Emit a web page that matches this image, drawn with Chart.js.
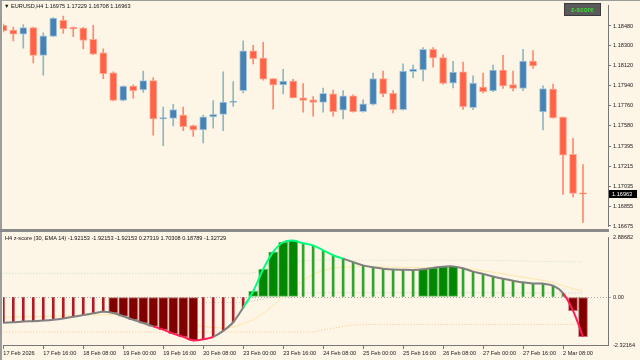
<!DOCTYPE html>
<html>
<head>
<meta charset="utf-8">
<script src="https://cdn.jsdelivr.net/npm/chart.js@4.4.1/dist/chart.umd.min.js"></script>
<style>
  html, body { margin: 0; padding: 0; background: #FDF5E6; }
  #wrap { position: relative; width: 640px; height: 360px; overflow: hidden; background: #FDF5E6;
          font-family: "Liberation Sans", Arial, sans-serif; }
  canvas { position: absolute; left: 0; }
  #main { top: 0; }
  #sub { top: 232px; }
  .txt { position: absolute; font-size: 5.6px; line-height: 7px; color: #111; white-space: pre; }
  #btn { position: absolute; left: 564px; top: 3px; width: 37px; height: 13px; background: #5a5a5a;
         border: 1px solid #3a3a3a; box-sizing: border-box; color: #33d633; font-size: 6.5px;
         line-height: 11px; text-align: center; font-weight: bold; }
  .edge { position: absolute; background: #9c9c9c; }
</style>
</head>
<body>
<div id="wrap">
  <canvas id="main" width="640" height="232"></canvas>
  <canvas id="sub" width="640" height="128"></canvas>
  <div class="edge" style="left:0;top:0;width:2px;height:360px"></div>
  <div class="edge" style="left:0;top:0;width:640px;height:1px"></div>
  <div class="edge" style="left:0;top:229px;width:609px;height:3px;background:#8a8a8a"></div>
  <div class="txt" style="left:4px;top:3px">▼ EURUSD,H4 1.16975 1.17229 1.16708 1.16963</div>
  <div class="txt" style="left:5px;top:235px">H4 z-score (30, EMA 14) -1.92153 -1.92153 -1.92153 0.27319 1.70308 0.18789 -1.32729</div>
  <div id="btn">z-score</div>
</div>
<script>
// EURUSD H4 candles, 17 Feb 00:00 .. 2 Mar 16:00
const OPEN  = [1.18486,1.18442,1.18407,1.18465,1.18215,1.18385,1.18530,1.18468,1.18462,1.18359,
               1.18238,1.18058,1.17807,1.17937,1.17902,1.17987,1.17642,1.17645,1.17675,1.17580,
               1.17542,1.17660,1.17681,1.17790,1.17896,1.18256,1.18191,1.18005,1.17949,1.17982,
               1.17831,1.17814,1.17790,1.17867,1.17719,1.17849,1.17707,1.17772,1.18005,1.17872,
               1.17725,1.18067,1.18084,1.18270,1.18194,1.17964,1.18067,1.17743,1.17929,1.17893,
               1.18082,1.17952,1.17916,1.18164,1.17704,1.17911,1.17657,1.17321,1.16975]
const HIGH  = [1.18498,1.18471,1.18492,1.18470,1.18418,1.18556,1.18569,1.18471,1.18467,1.18486,
               1.18274,1.18067,1.17940,1.17949,1.18073,1.18014,1.17748,1.17772,1.17748,1.17586,
               1.17675,1.17807,1.18067,1.17978,1.18345,1.18306,1.18332,1.18005,1.18088,1.17999,
               1.17961,1.17843,1.17920,1.17902,1.17896,1.17858,1.17814,1.18055,1.18073,1.17896,
               1.18138,1.18126,1.18285,1.18285,1.18221,1.18161,1.18153,1.18029,1.18055,1.18126,
               1.18215,1.18073,1.18270,1.18259,1.17940,1.17955,1.17657,1.17465,1.17229]
const LOW   = [1.18427,1.18345,1.18279,1.18146,1.18035,1.18383,1.18412,1.18383,1.18274,1.18221,
               1.18005,1.17803,1.17803,1.17828,1.17881,1.17495,1.17400,1.17577,1.17536,1.17483,
               1.17424,1.17557,1.17536,1.17754,1.17876,1.18138,1.17991,1.17730,1.17867,1.17830,
               1.17701,1.17666,1.17701,1.17666,1.17642,1.17701,1.17701,1.17766,1.17843,1.17695,
               1.17719,1.18014,1.17984,1.18108,1.17954,1.17920,1.17728,1.17725,1.17876,1.17887,
               1.17916,1.17893,1.17896,1.18097,1.17542,1.17648,1.16960,1.16937,1.16708]
const CLOSE = [1.18436,1.18407,1.18465,1.18215,1.18392,1.18551,1.18456,1.18453,1.18350,1.18226,
               1.18049,1.17807,1.17937,1.17896,1.17987,1.17642,1.17654,1.17725,1.17571,1.17542,
               1.17660,1.17683,1.17792,1.17801,1.18256,1.18185,1.17999,1.17949,1.17982,1.17831,
               1.17807,1.17790,1.17872,1.17707,1.17849,1.17707,1.17778,1.18005,1.17867,1.17725,
               1.18073,1.18091,1.18270,1.18191,1.17961,1.18064,1.17752,1.17964,1.17887,1.18082,
               1.17940,1.17916,1.18164,1.18120,1.17916,1.17651,1.17314,1.16969,1.16963]

// z-score (30, EMA 14) sub window
const ZSCORE = [-1.25,-1.22,-1.18,-1.17,-1.14,-1.10,-1.04,-0.96,-0.87,-0.79,
                -0.71,-0.77,-0.93,-1.10,-1.26,-1.42,-1.58,-1.77,-1.93,-2.10,
                -2.05,-1.93,-1.64,-1.22,-0.51,0.28,1.34,2.18,2.65,2.73,
                2.60,2.50,2.26,2.02,1.86,1.69,1.53,1.44,1.37,1.33,
                1.32,1.31,1.34,1.41,1.47,1.48,1.39,1.23,1.12,0.99,
                0.88,0.79,0.71,0.66,0.65,0.55,0.19,-0.66,-1.92153]
const ZEMA   = [-0.98,-0.97,-0.96,-0.95,-0.94,-0.93,-0.92,-0.91,-0.89,-0.87,
                -0.85,-0.86,-0.88,-0.92,-0.97,-1.03,-1.10,-1.18,-1.26,-1.35,
                -1.42,-1.48,-1.50,-1.46,-1.30,-1.10,-0.80,-0.40,0.00,0.40,
                0.80,1.10,1.30,1.40,1.45,1.46,1.47,1.47,1.46,1.45,
                1.44,1.43,1.42,1.42,1.41,1.41,1.38,1.33,1.27,1.20,
                1.12,1.04,0.96,0.88,0.80,0.70,0.55,0.40,0.27319]
const UPPER  = [1.15,1.15,1.15,1.15,1.15,1.15,1.15,1.15,1.15,1.15,
                1.15,1.15,1.15,1.15,1.15,1.15,1.15,1.15,1.15,1.15,
                1.15,1.15,1.15,1.15,1.15,1.15,1.30,1.45,1.60,1.70,
                1.75,1.78,1.78,1.78,1.78,1.78,1.78,1.78,1.78,1.78,
                1.78,1.78,1.78,1.78,1.78,1.78,1.78,1.78,1.78,1.77,
                1.76,1.75,1.74,1.73,1.72,1.71,1.71,1.70,1.70308]
const MIDLN  = [null,null,null,null,null,null,null,null,null,null,
                null,null,null,null,null,null,null,null,null,null,
                -0.27,-0.27,-0.27,-0.27,-0.27,-0.20,-0.10,0.00,0.08,0.14,
                0.18,0.20,0.21,0.21,0.21,0.21,0.21,0.21,0.21,0.21,
                0.21,0.21,0.21,0.21,0.21,0.21,0.21,0.21,0.21,0.21,
                0.20,0.20,0.20,0.19,0.19,0.19,0.19,0.19,0.18789]
const LOWER  = [-1.69,-1.69,-1.69,-1.69,-1.69,-1.69,-1.69,-1.69,-1.69,-1.69,
                -1.69,-1.69,-1.69,-1.69,-1.69,-1.69,-1.69,-1.69,-1.69,-1.69,
                -1.69,-1.69,-1.69,-1.69,-1.69,-1.69,-1.69,-1.69,-1.69,-1.69,
                -1.69,-1.69,-1.60,-1.50,-1.42,-1.36,-1.33,-1.33,-1.33,-1.33,
                -1.33,-1.33,-1.33,-1.33,-1.33,-1.33,-1.33,-1.33,-1.33,-1.33,
                -1.33,-1.33,-1.33,-1.33,-1.33,-1.33,-1.33,-1.33,-1.32729]

// one time label every 4 bars
const TIME_LABELS = ['17 Feb 2026','17 Feb 16:00','18 Feb 08:00','19 Feb 00:00','19 Feb 16:00',
                     '20 Feb 08:00','23 Feb 00:00','23 Feb 16:00','24 Feb 08:00','25 Feb 00:00',
                     '25 Feb 16:00','26 Feb 08:00','27 Feb 00:00','27 Feb 16:00','2 Mar 08:00']
const PRICE_TICKS = [1.18480,1.18300,1.18120,1.17940,1.17760,1.17580,1.17395,1.17215,1.17035,1.16855,1.16675]
const Z_TICKS = [2.88682, 0, -2.32164]

// bars whose z line is drawn coloured
const GREEN_SPAN = [24, 34]
const RED_SPANS = [[15, 21], [56, 58]]

const FONT = { family: "Liberation Sans", size: 5.6 }
const X_MIN = -0.03, X_MAX = 60.5

const UP = "#4682B4", DOWN = "#FF6347"
const isUp = OPEN.map((o, i) => CLOSE[i] >= o)

const fixTicks = (vals) => (scale) => { scale.ticks = vals.map((v) => ({ value: v })) }

const priceTag = {
  id: "priceTag",
  afterDraw(chart) {
    const last = CLOSE[CLOSE.length - 1]
    const y = chart.scales.y.getPixelForValue(last)
    const ctx = chart.ctx
    ctx.save()
    ctx.fillStyle = "#000"
    ctx.fillRect(609, Math.round(y) - 4, 28, 8)
    ctx.fillStyle = "#fff"
    ctx.font = '5.6px "Liberation Sans"'
    ctx.textBaseline = "middle"
    ctx.fillText(last.toFixed(5), 612, y)
    ctx.restore()
  },
}

new Chart(document.getElementById("main"), {
  type: "bar",
  data: {
    datasets: [
      {
        data: LOW.map((l, i) => ({ x: i, y: [l, HIGH[i]] })),
        backgroundColor: isUp.map((u) => (u ? "#8FB8C0" : "#FF8A6E")),
        barThickness: 1,
        grouped: false,
        order: 2,
      },
      {
        data: OPEN.map((o, i) => ({ x: i, y: [o, CLOSE[i]] })),
        backgroundColor: isUp.map((u) => (u ? UP : DOWN)),
        borderColor: isUp.map((u) => (u ? "#A9C9DA" : "#FFA58E")),
        borderWidth: 1,
        borderSkipped: false,
        barThickness: 7,
        grouped: false,
        order: 1,
      },
    ],
  },
  options: {
    responsive: false,
    animation: false,
    layout: { padding: { left: 3, top: 3, bottom: 3, right: 0 } },
    plugins: { legend: false, tooltip: false },
    scales: {
      x: { type: "linear", offset: false, min: X_MIN, max: X_MAX, display: false },
      y: {
        position: "right",
        min: 1.16669,
        max: 1.18666,
        afterBuildTicks: fixTicks(PRICE_TICKS),
        afterFit: (s) => { s.width = 32 },
        grid: { drawOnChartArea: false, tickLength: 3, color: "#777" },
        border: { color: "#777" },
        ticks: { font: FONT, color: "#222", padding: 2, callback: (v) => v.toFixed(5) },
      },
    },
  },
  plugins: [priceTag],
})

const wide = ZSCORE.map((z, i) => i > 0 && ((z > 0 && z > ZSCORE[i - 1]) || (z < 0 && z < ZSCORE[i - 1])))

function zColor(i) {
  if (i >= GREEN_SPAN[0] && i < GREEN_SPAN[1]) return "#00FF7F"
  if (RED_SPANS.some(([a, b]) => i >= a && i < b)) return "#FF1E5A"
  return "#808080"
}

const pts = (arr) => arr.map((v, i) => ({ x: i, y: v }))

new Chart(document.getElementById("sub"), {
  type: "bar",
  data: {
    datasets: [
      {
        type: "line", data: pts(ZEMA), borderColor: "#FFE6A6", borderWidth: 1,
        pointRadius: 0, order: 6,
      },
      {
        type: "line", data: pts(UPPER), borderColor: "#BFE3BF", borderWidth: 1,
        borderDash: [1, 2], pointRadius: 0, order: 6,
      },
      {
        type: "line", data: pts(MIDLN), borderColor: "#C8C8C8", borderWidth: 1,
        borderDash: [1, 2], pointRadius: 0, order: 6,
      },
      {
        type: "line", data: pts(LOWER), borderColor: "#FFC880", borderWidth: 1,
        borderDash: [1, 2], pointRadius: 0, order: 6,
      },
      {
        data: ZSCORE.map((z, i) => ({ x: i, y: wide[i] ? null : z })),
        backgroundColor: ZSCORE.map((z) => (z >= 0 ? "#2EA62E" : "#B01C24")),
        barThickness: 2,
        grouped: false,
        order: 4,
      },
      {
        data: ZSCORE.map((z, i) => ({ x: i, y: wide[i] ? z : null })),
        backgroundColor: ZSCORE.map((z) => (z >= 0 ? "#008800" : "#800000")),
        borderColor: ZSCORE.map((z) => (z >= 0 ? "#5CC05C" : "#C07070")),
        borderWidth: 1,
        borderSkipped: false,
        barThickness: 9,
        grouped: false,
        order: 3,
      },
      {
        type: "line", data: pts(ZSCORE), borderWidth: 2, pointRadius: 0,
        borderColor: "#808080", tension: 0.3,
        segment: { borderColor: (ctx) => zColor(ctx.p0DataIndex) },
        order: 1,
      },
    ],
  },
  options: {
    responsive: false,
    animation: false,
    layout: { padding: { left: 3, top: 3, bottom: 0, right: 0 } },
    plugins: { legend: false, tooltip: false },
    scales: {
      x: {
        type: "linear", offset: false, min: X_MIN, max: X_MAX,
        afterBuildTicks: fixTicks(TIME_LABELS.map((_, k) => k * 4)),
        afterFit: (s) => { s.height = 15 },
        grid: { drawOnChartArea: false, tickLength: 4, color: "#777", offset: false },
        border: { color: "#777" },
        ticks: {
          font: FONT, color: "#222", padding: 1, align: "start", maxRotation: 0,
          autoSkip: false, callback: (v) => TIME_LABELS[v / 4],
        },
      },
      y: {
        position: "right",
        min: -2.32164,
        max: 2.88682,
        afterBuildTicks: fixTicks(Z_TICKS),
        afterFit: (s) => { s.width = 32 },
        grid: {
          tickLength: 3,
          color: (c) => (c.tick && c.tick.value === 0 ? "#A8A8A8" : "rgba(0,0,0,0)"),
        },
        border: { color: "#777", dash: [1, 2] },
        ticks: {
          font: FONT, color: "#222", padding: 2,
          callback: (v) => (v === 0 ? "0.00" : v.toFixed(5)),
        },
      },
    },
  },
})
</script>
</body>
</html>
